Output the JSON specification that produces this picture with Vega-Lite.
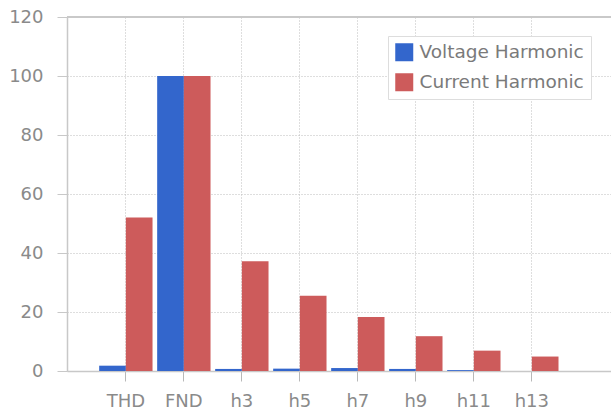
{
  "$schema": "https://vega.github.io/schema/vega-lite/v6.json",
  "width": 544,
  "height": 354,
  "autosize": {"type": "none"},
  "padding": {"left": 67, "top": 17, "right": 0, "bottom": 41},
  "background": "white",
  "config": {"view": {"stroke": null}, "font": "DejaVu Sans"},
  "data": {"values": [
    {"cat": "THD", "series": "Voltage Harmonic", "value": 1.8},
    {"cat": "THD", "series": "Current Harmonic", "value": 52},
    {"cat": "FND", "series": "Voltage Harmonic", "value": 100},
    {"cat": "FND", "series": "Current Harmonic", "value": 100},
    {"cat": "h3", "series": "Voltage Harmonic", "value": 0.7},
    {"cat": "h3", "series": "Current Harmonic", "value": 37.2},
    {"cat": "h5", "series": "Voltage Harmonic", "value": 0.8},
    {"cat": "h5", "series": "Current Harmonic", "value": 25.5},
    {"cat": "h7", "series": "Voltage Harmonic", "value": 1.0},
    {"cat": "h7", "series": "Current Harmonic", "value": 18.3},
    {"cat": "h9", "series": "Voltage Harmonic", "value": 0.7},
    {"cat": "h9", "series": "Current Harmonic", "value": 11.8},
    {"cat": "h11", "series": "Voltage Harmonic", "value": 0.3},
    {"cat": "h11", "series": "Current Harmonic", "value": 6.9},
    {"cat": "h13", "series": "Voltage Harmonic", "value": 0},
    {"cat": "h13", "series": "Current Harmonic", "value": 4.9}
  ]},
  "layer": [
    {
      "mark": {"type": "bar"},
      "encoding": {
        "x": {
          "field": "cat", "type": "nominal", "sort": null,
          "scale": {"domain": ["THD", "FND", "h3", "h5", "h7", "h9", "h11", "h13"], "paddingInner": 0.08, "paddingOuter": 0.73, "align": 0.38},
          "axis": {
            "title": null, "labelAngle": 0, "bandPosition": 0.5,
            "grid": true, "gridDash": [1, 2], "gridColor": "#bdbdbd",
            "domainColor": "#c8c8c8", "domainWidth": 1.5,
            "tickColor": "#b8b8b8", "tickSize": 10,
            "labelFontSize": 18, "labelColor": "#8a8a8a", "labelPadding": 11
          }
        },
        "xOffset": {
          "field": "series", "type": "nominal",
          "scale": {"domain": ["Voltage Harmonic", "Current Harmonic"], "paddingInner": 0, "paddingOuter": 0}
        },
        "y": {
          "field": "value", "type": "quantitative",
          "scale": {"domain": [0, 120], "nice": false},
          "axis": {
            "title": null, "values": [0, 20, 40, 60, 80, 100, 120],
            "grid": true, "gridDash": [1, 2], "gridColor": "#bdbdbd",
            "domainColor": "#c8c8c8", "domainWidth": 1.5,
            "tickColor": "#c8c8c8", "tickSize": 10,
            "labelFontSize": 18, "labelColor": "#8a8a8a", "labelPadding": 14
          }
        },
        "color": {
          "field": "series", "type": "nominal",
          "scale": {"domain": ["Voltage Harmonic", "Current Harmonic"], "range": ["#3366cc", "#cd5b5b"]},
          "legend": {
            "title": null, "orient": "none", "legendX": 321, "legendY": 19,
            "symbolType": "square", "symbolSize": 324, "symbolStrokeWidth": 0,
            "labelFontSize": 18.5, "labelColor": "#7a7a7a", "labelLimit": 300, "labelOffset": 6,
            "rowPadding": 11, "padding": 7,
            "fillColor": "white", "strokeColor": "#dddddd"
          }
        }
      }
    },
    {
      "mark": {"type": "rule", "color": "#c8c8c8", "strokeWidth": 1.5},
      "encoding": {"y": {"datum": 120}}
    }
  ]
}
